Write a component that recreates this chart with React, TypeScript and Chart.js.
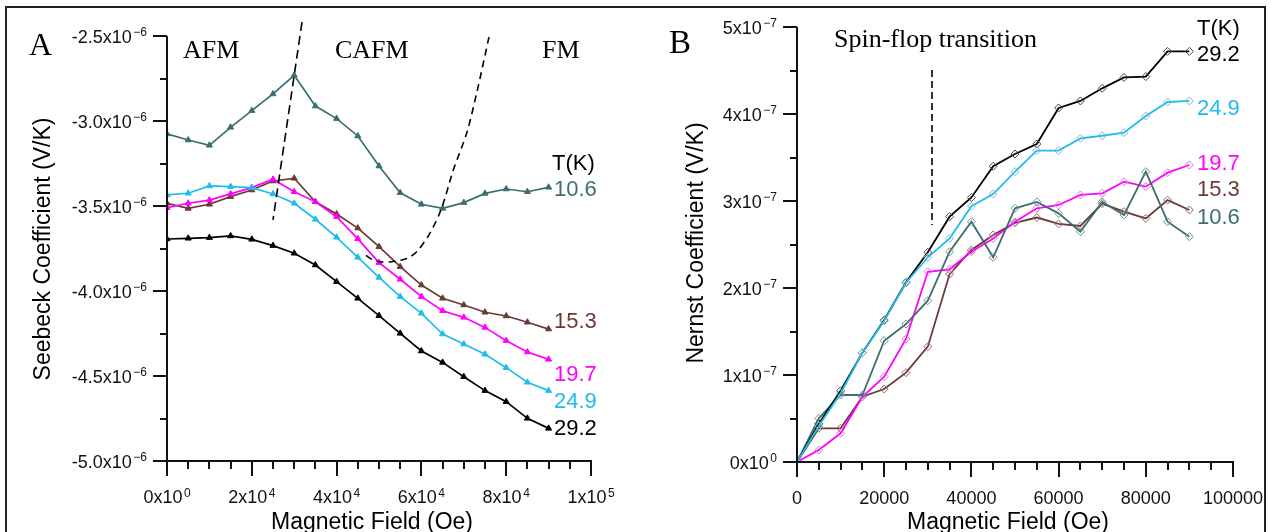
import React, { useEffect, useRef } from "react";
import { Chart, registerables } from "chart.js";

Chart.register(...registerables);

const W = 1271;
const H = 532;
const SANS = '"Liberation Sans", Arial, sans-serif';
const SERIF = '"Liberation Serif", "Times New Roman", serif';

// Magnetic field (Oe), shared by both panels
const fieldOe = [0, 5000, 10000, 15000, 20000, 25000, 30000, 35000, 40000, 45000, 50000, 55000, 60000, 65000, 70000, 75000, 80000, 85000, 90000];

// Panel A: Seebeck coefficient, in units of 1e-6 V/K
const seebeckT106 = [-3.076, -3.112, -3.143, -3.037, -2.939, -2.841, -2.731, -2.912, -2.986, -3.088, -3.265, -3.422, -3.49, -3.514, -3.48, -3.426, -3.4, -3.416, -3.39];
const seebeckT153 = [-3.484, -3.514, -3.49, -3.445, -3.406, -3.353, -3.337, -3.475, -3.547, -3.63, -3.739, -3.857, -3.965, -4.043, -4.082, -4.125, -4.147, -4.184, -4.224];
const seebeckT197 = [-3.51, -3.484, -3.465, -3.429, -3.392, -3.343, -3.416, -3.475, -3.563, -3.693, -3.833, -3.931, -4.033, -4.116, -4.155, -4.214, -4.292, -4.359, -4.402];
const seebeckT249 = [-3.435, -3.425, -3.382, -3.386, -3.392, -3.429, -3.484, -3.578, -3.684, -3.802, -3.92, -4.033, -4.131, -4.253, -4.312, -4.372, -4.451, -4.537, -4.586];
const seebeckT292 = [-3.694, -3.69, -3.686, -3.676, -3.696, -3.733, -3.778, -3.847, -3.945, -4.043, -4.145, -4.249, -4.353, -4.42, -4.504, -4.586, -4.651, -4.749, -4.808];

// Panel A phase boundaries (field Oe, Seebeck 1e-6 V/K)
const boundaryAfmField = [31840, 25000];
const boundaryAfmValue = [-2.418, -3.582];
const boundaryFmField = [75943, 73043, 70684, 67524, 64788, 62028, 58892, 56533, 52594, 50236, 48278, 46156];
const boundaryFmValue = [-2.506, -2.835, -3.071, -3.288, -3.512, -3.659, -3.769, -3.809, -3.829, -3.828, -3.814, -3.776];

// Panel B: Nernst coefficient, in units of 1e-7 V/K
const nernstT292 = [0, 0.44, 0.82, 1.256, 1.632, 2.065, 2.41, 2.82, 3.04, 3.4, 3.54, 3.655, 4.07, 4.15, 4.295, 4.42, 4.43, 4.72, 4.72];
const nernstT249 = [0, 0.414, 0.79, 1.256, 1.624, 2.06, 2.353, 2.571, 2.94, 3.08, 3.337, 3.58, 3.58, 3.72, 3.75, 3.785, 3.977, 4.138, 4.15];
const nernstT197 = [0, 0.138, 0.33, 0.75, 0.98, 1.414, 2.187, 2.215, 2.417, 2.57, 2.762, 2.916, 2.954, 3.07, 3.088, 3.222, 3.165, 3.326, 3.414];
const nernstT153 = [0, 0.387, 0.387, 0.75, 0.839, 1.027, 1.326, 2.16, 2.437, 2.61, 2.75, 2.81, 2.736, 2.713, 2.97, 2.877, 2.8, 3.01, 2.897];
const nernstT106 = [0, 0.502, 0.77, 0.77, 1.394, 1.586, 1.854, 2.417, 2.762, 2.353, 2.916, 2.99, 2.858, 2.647, 2.99, 2.84, 3.337, 2.762, 2.59];

// Panel B spin-flop marker
const spinFlopField = [30960, 30960];
const spinFlopValue = [4.506, 2.724];

// Ticks
const fieldTicksA = [0, 20000, 40000, 60000, 80000, 100000];
const fieldTickLabelsA = ["0x10^0", "2x10^4", "4x10^4", "6x10^4", "8x10^4", "1x10^5"];
const seebeckTicks = [-5.0, -4.5, -4.0, -3.5, -3.0, -2.5];
const seebeckTickLabels = ["-5.0x10^-6", "-4.5x10^-6", "-4.0x10^-6", "-3.5x10^-6", "-3.0x10^-6", "-2.5x10^-6"];
const fieldTicksB = [0, 20000, 40000, 60000, 80000, 100000];
const fieldTickLabelsB = ["0", "20000", "40000", "60000", "80000", "100000"];
const nernstTicks = [0, 1, 2, 3, 4, 5];
const nernstTickLabels = ["0x10^0", "1x10^-7", "2x10^-7", "3x10^-7", "4x10^-7", "5x10^-7"];

const temps = ["10.6", "15.3", "19.7", "24.9", "29.2"];

const C_TEAL = "#3c6e6e";
const C_BROWN = "#6b3a35";
const C_MAG = "#ff00ff";
const C_CYAN = "#20bdec";
const C_BLACK = "#000000";

type TextItem = { text: string; x: number; y: number; color?: string; font: string; align?: CanvasTextAlign; baseline?: CanvasTextBaseline; rotate?: boolean };

type AxisSpec = {
  xTicks: number[]; xLabels: string[]; xMinor: number;
  yTicks: number[]; yLabels: string[]; yMinor: number;
  texts: TextItem[];
};

function drawSupLabel(ctx: CanvasRenderingContext2D, text: string, x: number, y: number, align: "right" | "center") {
  const parts = text.split("^");
  const base = parts[0];
  const sup = parts[1] !== undefined ? parts[1].replace("-", "\u2212") : undefined;
  const fs = 18;
  const ss = 12;
  const gap = 1.5;
  ctx.font = `${fs}px ${SANS}`;
  const bw = ctx.measureText(base).width;
  let sw = 0;
  if (sup !== undefined) {
    ctx.font = `${ss}px ${SANS}`;
    sw = ctx.measureText(sup).width + gap;
  }
  const total = bw + sw;
  const x0 = align === "right" ? x - total : x - total / 2;
  ctx.textAlign = "left";
  ctx.textBaseline = "alphabetic";
  ctx.font = `${fs}px ${SANS}`;
  ctx.fillText(base, x0, y);
  if (sup !== undefined) {
    ctx.font = `${ss}px ${SANS}`;
    ctx.fillText(sup, x0 + bw + gap, y - 6.5);
  }
}

function axesPlugin(id: string, spec: AxisSpec) {
  return {
    id,
    afterDraw(chart: any) {
      const ctx: CanvasRenderingContext2D = chart.ctx;
      const xs = chart.scales.x;
      const ys = chart.scales.y;
      const { left, right, top, bottom } = chart.chartArea;
      ctx.save();
      ctx.strokeStyle = "#111";
      ctx.fillStyle = "#111";
      ctx.lineWidth = 2;
      ctx.beginPath();
      ctx.moveTo(left, top);
      ctx.lineTo(left, bottom + 1);
      ctx.moveTo(left - 1, bottom);
      ctx.lineTo(right + 1, bottom);
      ctx.stroke();
      // minor ticks
      const ny = Math.round((ys.max - ys.min) / spec.yMinor);
      ctx.beginPath();
      for (let i = 0; i <= ny; i++) {
        const v = ys.min + i * spec.yMinor;
        const p = Math.round(ys.getPixelForValue(v));
        ctx.moveTo(left, p);
        ctx.lineTo(left - 7, p);
      }
      const nx = Math.round((xs.max - xs.min) / spec.xMinor);
      for (let i = 0; i <= nx; i++) {
        const v = xs.min + i * spec.xMinor;
        const p = Math.round(xs.getPixelForValue(v));
        ctx.moveTo(p, bottom);
        ctx.lineTo(p, bottom + 8);
      }
      ctx.stroke();
      // major ticks + labels
      ctx.beginPath();
      spec.yTicks.forEach((v) => {
        const p = Math.round(ys.getPixelForValue(v));
        ctx.moveTo(left, p);
        ctx.lineTo(left - 14, p);
      });
      spec.xTicks.forEach((v) => {
        const p = Math.round(xs.getPixelForValue(v));
        ctx.moveTo(p, bottom);
        ctx.lineTo(p, bottom + 15);
      });
      ctx.stroke();
      spec.yTicks.forEach((v, i) => {
        const p = ys.getPixelForValue(v);
        drawSupLabel(ctx, spec.yLabels[i], left - 20, p + 6.5, "right");
      });
      spec.xTicks.forEach((v, i) => {
        const p = xs.getPixelForValue(v);
        drawSupLabel(ctx, spec.xLabels[i], p, bottom + 42, "center");
      });
      // texts
      spec.texts.forEach((t) => {
        ctx.save();
        ctx.fillStyle = t.color || "#000";
        ctx.font = t.font;
        ctx.textAlign = t.align || "left";
        ctx.textBaseline = t.baseline || "alphabetic";
        if (t.rotate) {
          ctx.translate(t.x, t.y);
          ctx.rotate(-Math.PI / 2);
          ctx.fillText(t.text, 0, 0);
        } else {
          ctx.fillText(t.text, t.x, t.y);
        }
        ctx.restore();
      });
      ctx.restore();
    },
  };
}

function pts(xs: number[], ys: number[]) {
  return xs.map((x, i) => ({ x, y: ys[i] }));
}

function seebeckSet(label: string, ys: number[], color: string) {
  return {
    label,
    data: pts(fieldOe, ys),
    borderColor: color,
    backgroundColor: color,
    pointBackgroundColor: color,
    pointBorderColor: color,
    pointStyle: "triangle",
    pointRadius: 3.5,
    pointBorderWidth: 1,
    borderWidth: 1.7,
    tension: 0,
  };
}

function nernstSet(label: string, ys: number[], color: string, pointColor: string) {
  return {
    label,
    data: pts(fieldOe, ys),
    borderColor: color,
    backgroundColor: color,
    pointBackgroundColor: "rgba(255,255,255,0)",
    pointBorderColor: pointColor,
    pointStyle: "rectRot",
    pointRadius: 4,
    pointBorderWidth: 1,
    borderWidth: 1.8,
    tension: 0,
  };
}

function dashedSet(label: string, xs: number[], ys: number[], dash: number[], tension: number) {
  return {
    label,
    data: pts(xs, ys),
    borderColor: "#000",
    borderWidth: 1.6,
    borderDash: dash,
    pointRadius: 0,
    tension,
    clip: false as any,
  };
}

const labelFont = `22px ${SANS}`;
const titleFont = `23px ${SANS}`;
const serifFont = `26px ${SERIF}`;

function makeConfigA(): any {
  return {
    type: "line",
    data: {
      datasets: [
        dashedSet("AFM-CAFM boundary", boundaryAfmField, boundaryAfmValue, [9, 5], 0),
        dashedSet("CAFM-FM boundary", boundaryFmField, boundaryFmValue, [7, 5], 0.3),
        seebeckSet(temps[3], seebeckT249, C_CYAN),
        seebeckSet(temps[2], seebeckT197, C_MAG),
        seebeckSet(temps[1], seebeckT153, C_BROWN),
        seebeckSet(temps[4], seebeckT292, C_BLACK),
        seebeckSet(temps[0], seebeckT106, C_TEAL),
      ],
    },
    options: {
      responsive: false,
      animation: false,
      events: [],
      layout: { padding: { left: 167, right: W - 591, top: 36, bottom: H - 461 } },
      plugins: { legend: { display: false }, tooltip: { enabled: false } },
      scales: {
        x: { type: "linear", min: 0, max: 100000, display: false },
        y: { type: "linear", min: -5, max: -2.5, display: false },
      },
    },
    plugins: [
      axesPlugin("axesA", {
        xTicks: fieldTicksA, xLabels: fieldTickLabelsA, xMinor: 5000,
        yTicks: seebeckTicks, yLabels: seebeckTickLabels, yMinor: 0.25,
        texts: [
          { text: "A", x: 29, y: 55, font: `32px ${SERIF}` },
          { text: "AFM", x: 183, y: 58, font: serifFont },
          { text: "CAFM", x: 335, y: 58, font: serifFont },
          { text: "FM", x: 542, y: 58, font: serifFont },
          { text: "T(K)", x: 552, y: 164, font: labelFont, baseline: "middle" },
          { text: temps[0], x: 554, y: 190, font: labelFont, baseline: "middle", color: C_TEAL },
          { text: temps[1], x: 554, y: 322, font: labelFont, baseline: "middle", color: C_BROWN },
          { text: temps[2], x: 554, y: 375, font: labelFont, baseline: "middle", color: C_MAG },
          { text: temps[3], x: 554, y: 402, font: labelFont, baseline: "middle", color: C_CYAN },
          { text: temps[4], x: 554, y: 429, font: labelFont, baseline: "middle", color: C_BLACK },
          { text: "Seebeck Coefficient (V/K)", x: 44, y: 249, font: titleFont, align: "center", baseline: "middle", rotate: true },
          { text: "Magnetic Field (Oe)", x: 372, y: 529, font: titleFont, align: "center" },
        ],
      }),
    ],
  };
}

function makeConfigB(): any {
  return {
    type: "line",
    data: {
      datasets: [
        dashedSet("Spin-flop transition", spinFlopField, spinFlopValue, [7, 4], 0),
        nernstSet(temps[3], nernstT249, C_CYAN, "#7fb6c8"),
        nernstSet(temps[4], nernstT292, C_BLACK, "#444"),
        nernstSet(temps[0], nernstT106, C_TEAL, "#6f9090"),
        nernstSet(temps[2], nernstT197, C_MAG, "#e070e0"),
        nernstSet(temps[1], nernstT153, C_BROWN, "#8a6a66"),
      ],
    },
    options: {
      responsive: false,
      animation: false,
      events: [],
      layout: { padding: { left: 797, right: W - 1233, top: 27, bottom: H - 462 } },
      plugins: { legend: { display: false }, tooltip: { enabled: false } },
      scales: {
        x: { type: "linear", min: 0, max: 100000, display: false },
        y: { type: "linear", min: 0, max: 5, display: false },
      },
    },
    plugins: [
      axesPlugin("axesB", {
        xTicks: fieldTicksB, xLabels: fieldTickLabelsB, xMinor: 5000,
        yTicks: nernstTicks, yLabels: nernstTickLabels, yMinor: 0.5,
        texts: [
          { text: "B", x: 669, y: 53, font: `33px ${SERIF}` },
          { text: "Spin-flop transition", x: 834, y: 47, font: serifFont },
          { text: "T(K)", x: 1197, y: 29, font: labelFont, baseline: "middle" },
          { text: temps[4], x: 1197, y: 55, font: labelFont, baseline: "middle", color: C_BLACK },
          { text: temps[3], x: 1197, y: 109, font: labelFont, baseline: "middle", color: C_CYAN },
          { text: temps[2], x: 1197, y: 164, font: labelFont, baseline: "middle", color: C_MAG },
          { text: temps[1], x: 1197, y: 190, font: labelFont, baseline: "middle", color: C_BROWN },
          { text: temps[0], x: 1197, y: 218, font: labelFont, baseline: "middle", color: C_TEAL },
          { text: "Nernst Coefficient (V/K)", x: 697, y: 243, font: titleFont, align: "center", baseline: "middle", rotate: true },
          { text: "Magnetic Field (Oe)", x: 1008, y: 529, font: titleFont, align: "center" },
        ],
      }),
    ],
  };
}

export default function App() {
  const refA = useRef<HTMLCanvasElement>(null);
  const refB = useRef<HTMLCanvasElement>(null);
  useEffect(() => {
    const a = new Chart(refA.current as HTMLCanvasElement, makeConfigA());
    const b = new Chart(refB.current as HTMLCanvasElement, makeConfigB());
    return () => {
      a.destroy();
      b.destroy();
    };
  }, []);
  return (
    <div style={{ position: "fixed", left: 0, top: 0, width: W, height: H, background: "#fff", overflow: "hidden" }}>
      <div style={{ position: "absolute", left: 5, top: 6, width: 1257, height: 600, border: "2px solid #222", boxSizing: "content-box" }} />
      <canvas ref={refA} width={W} height={H} style={{ position: "absolute", left: 0, top: 0, width: W, height: H }} />
      <canvas ref={refB} width={W} height={H} style={{ position: "absolute", left: 0, top: 0, width: W, height: H }} />
    </div>
  );
}
